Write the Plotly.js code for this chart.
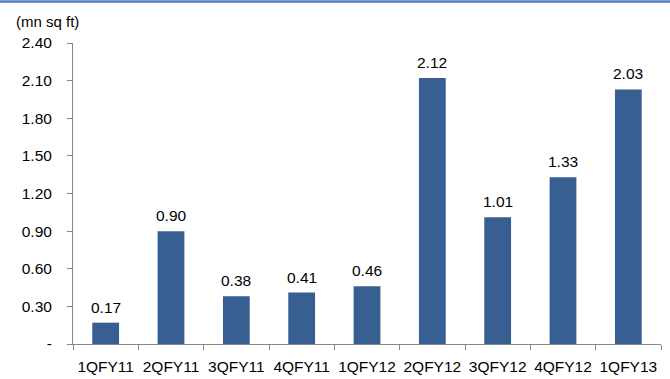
<!DOCTYPE html>
<html>
<head>
<meta charset="utf-8">
<script src="https://cdn.plot.ly/plotly-3.0.1.min.js"></script>
<style>
  html, body { margin: 0; padding: 0; background: #ffffff; }
  #chart { width: 670px; height: 379px; }
</style>
</head>
<body>
<div id="chart"></div>
<script>
// Quarterly area figures (mn sq ft)
const quarters = ['1QFY11', '2QFY11', '3QFY11', '4QFY11', '1QFY12', '2QFY12', '3QFY12', '4QFY12', '1QFY13'];
const areaMnSqFt = [0.17, 0.90, 0.38, 0.41, 0.46, 2.12, 1.01, 1.33, 2.03];

// Value axis ticks
const yTickVals = [0, 0.30, 0.60, 0.90, 1.20, 1.50, 1.80, 2.10, 2.40];
const yTickText = ['-', '0.30', '0.60', '0.90', '1.20', '1.50', '1.80', '2.10', '2.40'];

const FONT = 'Liberation Sans, Arial, sans-serif';
const AXIS_GREY = '#868686';
const TEXT_SIZE = 15.5;

const trace = {
  type: 'bar',
  x: quarters,
  y: areaMnSqFt,
  width: 0.41,
  marker: { color: '#375F92', line: { width: 0 } },
  hoverinfo: 'x+y'
};

// Value labels above each bar
const labels = quarters.map((q, i) => ({
  x: q,
  y: areaMnSqFt[i],
  xref: 'x',
  yref: 'y',
  text: areaMnSqFt[i].toFixed(2),
  showarrow: false,
  xanchor: 'center',
  yanchor: 'bottom',
  yshift: 5,
  font: { family: FONT, size: TEXT_SIZE, color: '#000000' }
}));

const layout = {
  width: 670,
  height: 379,
  margin: { l: 73, r: 9, t: 43, b: 35 },
  paper_bgcolor: '#ffffff',
  plot_bgcolor: '#ffffff',
  showlegend: false,
  font: { family: FONT, size: TEXT_SIZE, color: '#000000' },
  title: {
    text: '(mn sq ft)',
    xref: 'container',
    yref: 'container',
    x: 16 / 670,
    xanchor: 'left',
    y: 1 - 22 / 379,
    yanchor: 'middle',
    font: { family: FONT, size: 15, color: '#000000' }
  },
  xaxis: {
    type: 'category',
    showgrid: false,
    zeroline: false,
    showline: true,
    linecolor: AXIS_GREY,
    linewidth: 1,
    ticks: 'outside',
    tickson: 'boundaries',
    ticklen: 5,
    tickcolor: AXIS_GREY,
    tickangle: 0,
    tickfont: { family: FONT, size: TEXT_SIZE, color: '#000000' },
    ticklabelstandoff: 8
  },
  yaxis: {
    range: [0, 2.4],
    tickmode: 'array',
    tickvals: yTickVals,
    ticktext: yTickText,
    showgrid: false,
    zeroline: false,
    showline: true,
    linecolor: AXIS_GREY,
    linewidth: 1,
    ticks: 'outside',
    ticklen: 5,
    tickcolor: AXIS_GREY,
    tickfont: { family: FONT, size: TEXT_SIZE, color: '#000000' },
    ticklabelstandoff: 12
  },
  annotations: labels,
  shapes: [
    // Blue rule across the top of the figure
    {
      type: 'line',
      xref: 'paper',
      yref: 'paper',
      x0: -73 / 588,
      x1: 1 + 9 / 588,
      y0: (344 - 1.5) / 301,
      y1: (344 - 1.5) / 301,
      line: { color: '#4F81BD', width: 2.5 }
    }
  ]
};

Plotly.newPlot('chart', [trace], layout, { displayModeBar: false, staticPlot: true });
</script>
</body>
</html>
